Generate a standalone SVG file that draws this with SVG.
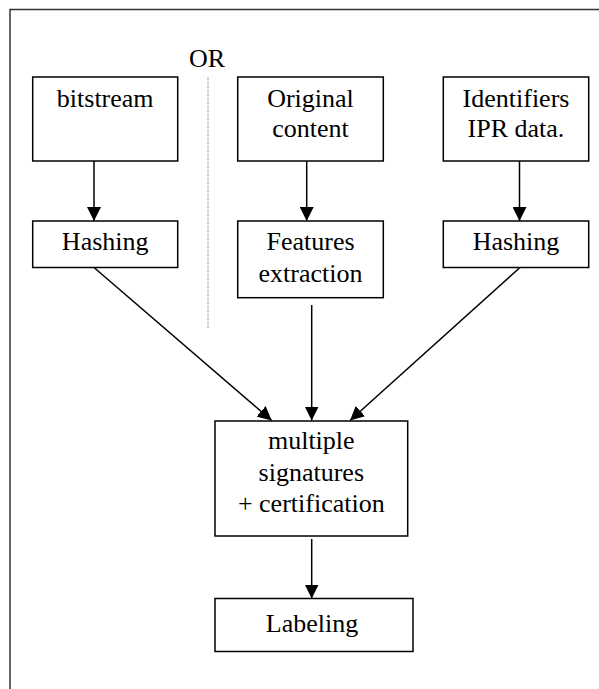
<svg xmlns="http://www.w3.org/2000/svg" width="599" height="689" viewBox="0 0 599 689">
<style>
.box{fill:#fff;stroke:#000;stroke-width:1.5}
.lbl{font-family:"Liberation Serif","Times New Roman",serif;font-size:26px;fill:#000;text-anchor:middle}
.con{stroke:#000;stroke-width:1.5;fill:none;marker-end:url(#ah)}
</style>
<defs>
<marker id="ah" markerUnits="userSpaceOnUse" markerWidth="14" markerHeight="14" viewBox="0 0 14 14" refX="14" refY="7" orient="auto">
<path d="M0,0 L14,7 L0,14 Z" fill="#000"/>
</marker>
</defs>
<rect width="599" height="689" fill="#fff"/>
<g id="frame">
<path d="M10,689 V9.5 H599" fill="none" stroke="#333" stroke-width="1.5"/>
</g>
<g id="separator">
<text class="lbl" x="207" y="67">OR</text>
<line x1="208" y1="77" x2="208" y2="328" stroke="#777" stroke-width="1" stroke-dasharray="1 1"/>
</g>
<g id="bitstream">
<rect class="box" x="32.7" y="77" width="145" height="84"/>
<text class="lbl" x="105.2" y="106.7">bitstream</text>
</g>
<g id="original">
<rect class="box" x="237.7" y="77" width="145.6" height="84"/>
<text class="lbl" x="310.5" y="106.5">Original</text>
<text class="lbl" x="310.5" y="136.7">content</text>
</g>
<g id="identifiers">
<rect class="box" x="443.3" y="77" width="145.4" height="84"/>
<text class="lbl" x="516" y="106.5">Identifiers</text>
<text class="lbl" x="516" y="136.7">IPR data.</text>
</g>
<g id="hashing1">
<rect class="box" x="32.7" y="221" width="145" height="46.5"/>
<text class="lbl" x="105.2" y="250">Hashing</text>
</g>
<g id="features">
<rect class="box" x="237.7" y="221" width="145.6" height="76.7"/>
<text class="lbl" x="310.5" y="250">Features</text>
<text class="lbl" x="310.5" y="281.5">extraction</text>
</g>
<g id="hashing2">
<rect class="box" x="443.3" y="221" width="145.4" height="46.5"/>
<text class="lbl" x="516" y="250">Hashing</text>
</g>
<g id="signatures">
<rect class="box" x="215" y="421" width="192.7" height="115"/>
<text class="lbl" x="311.3" y="449.3">multiple</text>
<text class="lbl" x="311.3" y="480.7">signatures</text>
<text class="lbl" x="311.3" y="512.3">+ certification</text>
</g>
<g id="labeling">
<rect class="box" x="215" y="598.5" width="198" height="53"/>
<text class="lbl" x="312" y="631.8">Labeling</text>
</g>
<g id="connectors">
<line class="con" x1="94" y1="161" x2="94" y2="221"/>
<line class="con" x1="306.7" y1="161" x2="306.7" y2="221"/>
<line class="con" x1="519.5" y1="161" x2="519.5" y2="221"/>
<line class="con" x1="94" y1="267.5" x2="271.7" y2="420.5"/>
<line class="con" x1="311.7" y1="305" x2="311.7" y2="420.5"/>
<line class="con" x1="520" y1="267.5" x2="350" y2="420.5"/>
<line class="con" x1="311.7" y1="539" x2="311.7" y2="598.5"/>
</g>
</svg>
